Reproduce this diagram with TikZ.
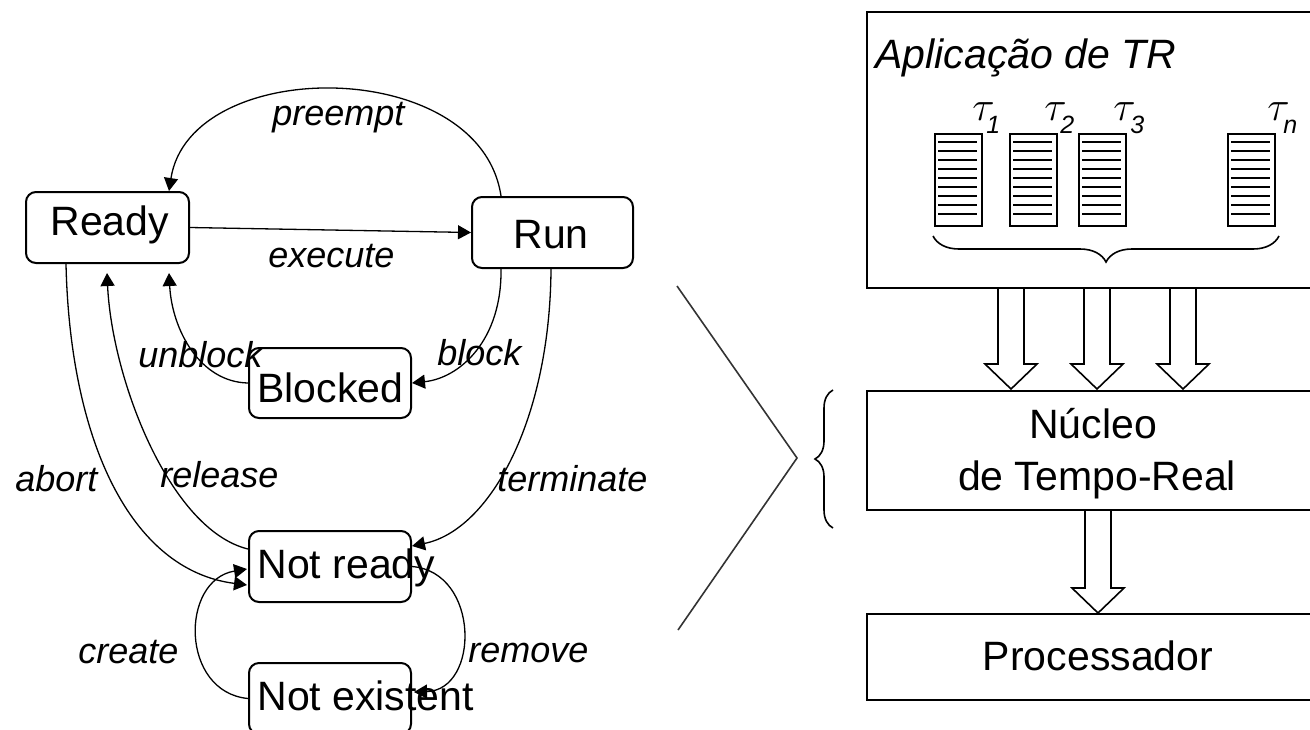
\documentclass[tikz,border=0pt]{standalone}
\usepackage{fontspec}
\setmainfont{Liberation Sans}
\usetikzlibrary{arrows.meta,calc,decorations.pathreplacing}
\begin{document}
\begin{tikzpicture}[x=0.5pt,y=-0.5pt,
  state/.style={draw, line width=1pt, rounded corners=5pt, minimum width=81pt, minimum height=35.5pt, inner sep=0pt},
  stxt/.style={font=\fontsize{20.5pt}{24pt}\selectfont, inner sep=0pt, anchor=base west},
  ctxt/.style={font=\fontsize{20.5pt}{24pt}\selectfont, inner sep=0pt, anchor=base},
  lbl/.style={font=\fontsize{18pt}{20pt}\selectfont\itshape, inner sep=0pt, anchor=base west},
  edge/.style={line width=0.65pt, -{Triangle[length=6.5pt,width=7pt]}},
  layer/.style={draw, line width=1pt, inner sep=0pt, anchor=north west, minimum width=231pt},
  taskbox/.style={draw, line width=1pt, inner sep=0pt, anchor=north west, minimum width=23.5pt, minimum height=46pt},
  hollow/.style={line width=0.8pt},
]
\useasboundingbox (0,0) rectangle (1310,729);

% ---------- state machine ----------
\node[state, minimum width=81.5pt] (ready) at (107.5,227.5) {};
\node[stxt] (readyt) at (50,235) {Ready};
\node[state, minimum width=80.5pt] (run) at (552.5,232.5) {};
\node[stxt] (runt) at (513,248) {Run};
\node[state, minimum height=35pt] (blocked) at (330,383) {};
\node[stxt] (blockedt) at (257,402) {Blocked};
\node[state] (notready) at (330,566.5) {};
\node[stxt] (notreadyt) at (257,578) {Not ready};
\node[state] (notexist) at (330,698.5) {};
\node[stxt] (notexistt) at (257,710) {Not existent};

\draw[edge] ($(run.north west)+(30,0)$) .. controls (480,55) and (190,55) .. ($(ready.north west)+(144,0)$);
\draw[edge] (ready.east) -- (run.west);
\draw[edge] ($(run.south west)+(30,0)$) .. controls (502,340) and (460,378) .. (blocked.east);
\draw[edge] (blocked.west) .. controls (200,382) and (172,330) .. ($(ready.south west)+(144,9)$);
\draw[edge] ($(run.south west)+(80,0)$) .. controls (550,420) and (490,530) .. ($(notready.north east)+(0,16)$);
\draw[edge] ($(notready.north west)+(0,19)$) .. controls (170,530) and (112,380) .. ($(ready.south west)+(82,9)$);
\draw[edge] ($(ready.south west)+(41,0)$) .. controls (70,440) and (130,570) .. ($(notready.north west)+(-1,55)$);
\draw[edge] (notexist.west) .. controls (180,692) and (180,580) .. ($(notready.north west)+(-1,39)$);
\draw[edge] (notready.east) .. controls (480,572) and (480,690) .. ($(notexist.north east)+(2,30)$);

\node[lbl] (lpreempt) at (272,125) {preempt};
\node[lbl] (lexecute) at (268,267) {execute};
\node[lbl] (lunblock) at (138,367) {unblock};
\node[lbl] (lblock) at (437,365) {block};
\node[lbl] (labort) at (15,491) {abort};
\node[lbl] (lrelease) at (160,487) {release};
\node[lbl] (lterminate) at (497,491) {terminate};
\node[lbl] (lcreate) at (78,663) {create};
\node[lbl] (lremove) at (468,662) {remove};

% ---------- chevron and brace ----------
\draw[line width=0.8pt, black!80] (677,286) -- (797,458) -- (678,630);
\draw[line width=0.8pt, decorate, decoration={brace, amplitude=9pt}] (833,528) -- (833,390);

% ---------- layers ----------
\node[layer, minimum height=138pt] (app) at (866,11) {};
\node[stxt, font=\fontsize{20.5pt}{24pt}\selectfont\itshape] (apptitle) at (875,68) {Aplicação de TR};
\node[layer, minimum height=59.5pt] (nucleo) at (866,390) {};
\node[ctxt] (nucleot1) at (1093,438) {Núcleo};
\node[ctxt] (nucleot2) at (1097,490) {de Tempo-Real};
\node[layer, minimum height=43pt] (proc) at (866,613) {};
\node[ctxt] (proct) at (1098,670) {Processador};

\foreach \x/\s/\tx/\sx [count=\i] in {934/1/-11/3, 1009/2/-14/2, 1078/3/-14/3, 1227/n/-9/7} {
  \node[taskbox] (task\i) at (\x,133) {};
  \foreach \k in {0,...,8}
    \draw[line width=0.9pt] ($(task\i.north west)+(4,9+9*\k)$) -- ++(39,0);
  \node[anchor=base west, inner sep=0pt, font=\fontsize{21pt}{22pt}\selectfont] (tau\i) at ($(task\i.north east)+(\tx,-13)$) {$\tau$};
  \node[anchor=base west, inner sep=0pt, font=\fontsize{12.5pt}{14pt}\selectfont\itshape] (sub\i) at ($(task\i.north east)+(\sx,0)$) {\s};
}
\draw[line width=0.8pt, decorate, decoration={brace, mirror, amplitude=13pt}] (933,236) -- (1279,236);

% ---------- hollow arrows ----------
\foreach \cx/\top/\tip in {1011/287/389, 1097/287/389, 1183/287/389, 1098/509/613} {
  \draw[hollow] (\cx-13,\top) -- (\cx-13,\tip-25) -- (\cx-26,\tip-25) -- (\cx,\tip)
     -- (\cx+26,\tip-25) -- (\cx+13,\tip-25) -- (\cx+13,\top);
}
\end{tikzpicture}
\end{document}
